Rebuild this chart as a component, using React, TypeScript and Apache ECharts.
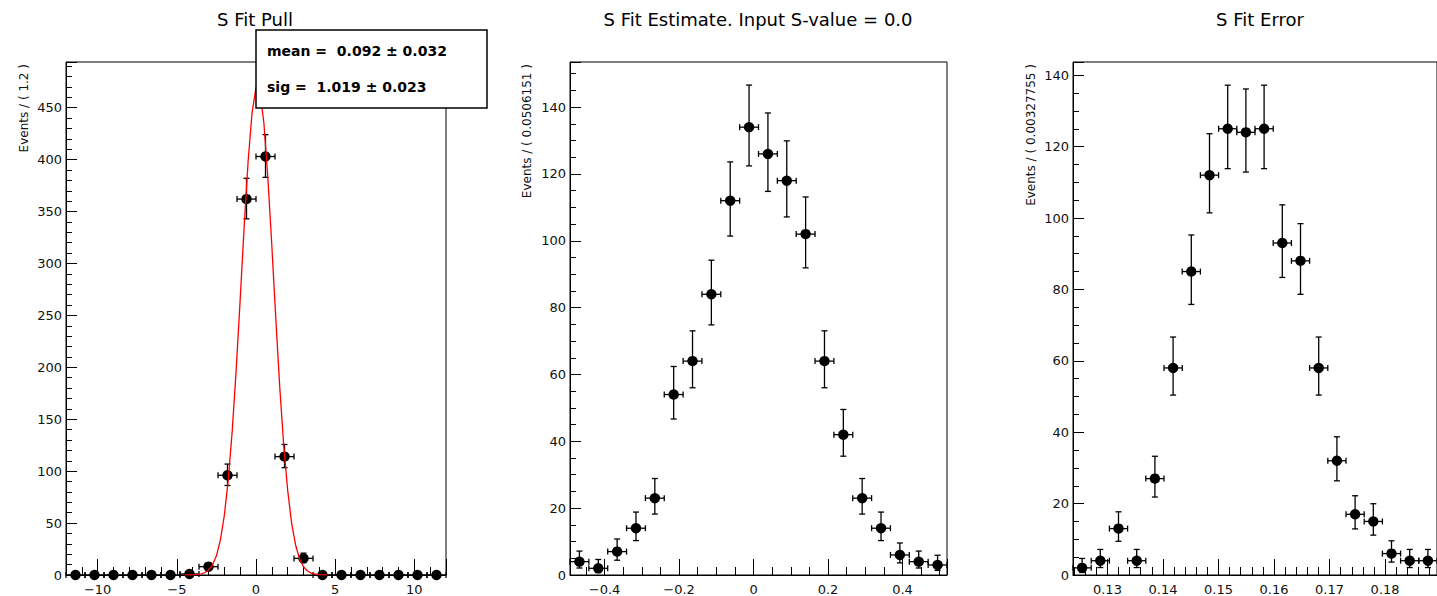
import React, { useEffect, useRef } from "react";
import * as echarts from "echarts";

// ---------- data ----------
const PULL_BIN = 1.2;
const pullCenters = [-11.4, -10.2, -9.0, -7.8, -6.6, -5.4, -4.2, -3.0, -1.8, -0.6, 0.6, 1.8, 3.0, 4.2, 5.4, 6.6, 7.8, 9.0, 10.2, 11.4];
const pullCounts = [0, 0, 0, 0, 0, 0, 1, 8, 96, 362, 403, 114, 16, 0, 0, 0, 0, 0, 0, 0];
const pullErrLow = [0, 0, 0, 0, 0, 0, 0.83, 2.77, 9.8, 19.03, 20.08, 10.66, 3.96, 0, 0, 0, 0, 0, 0, 0];
const pullErrHigh = [1.15, 1.15, 1.15, 1.15, 1.15, 1.15, 2.3, 3.95, 10.83, 20.03, 21.08, 11.7, 5.08, 1.15, 1.15, 1.15, 1.15, 1.15, 1.15, 1.15];

const fitX = [-4.5, -4.25, -4.0, -3.75, -3.5, -3.25, -3.0, -2.75, -2.5, -2.25, -2.0, -1.75, -1.5, -1.25, -1.0, -0.75, -0.5, -0.25, 0.0, 0.092, 0.25, 0.5, 0.75, 1.0, 1.25, 1.5, 1.75, 2.0, 2.25, 2.5, 2.75, 3.0, 3.25, 3.5, 3.75, 4.0, 4.25, 4.5];
const fitY = [0.02, 0.05, 0.15, 0.39, 0.94, 2.17, 4.7, 9.6, 18.5, 33.5, 57.3, 91.8, 139, 198, 265, 335, 398, 445, 469, 471, 465, 435, 382, 317, 247, 181, 125, 81.6, 50, 28.9, 15.7, 8.0, 3.87, 1.75, 0.75, 0.3, 0.11, 0.04];

const EST_BIN = 0.0506151;
const estCenters = [-0.46749, -0.41688, -0.36626, -0.31565, -0.26503, -0.21442, -0.1638, -0.11319, -0.06257, -0.01196, 0.03866, 0.08927, 0.13989, 0.1905, 0.24112, 0.29173, 0.34235, 0.39296, 0.44358, 0.49419];
const estCounts = [4, 2, 7, 14, 23, 54, 64, 84, 112, 134, 126, 118, 102, 64, 42, 23, 14, 6, 4, 3];
const estErrLow = [1.91, 1.29, 2.58, 3.7, 4.77, 7.33, 7.98, 9.16, 10.58, 11.58, 11.22, 10.86, 10.1, 7.98, 6.45, 4.77, 3.7, 2.38, 1.91, 1.63];
const estErrHigh = [3.16, 2.64, 3.77, 4.83, 5.87, 8.39, 9.06, 10.2, 11.6, 12.6, 12.25, 11.9, 11.12, 9.06, 7.53, 5.87, 4.83, 3.58, 3.16, 2.92];

const ERR_BIN = 0.00327755;
const errCenters = [0.125439, 0.128716, 0.131994, 0.135271, 0.138549, 0.141827, 0.145104, 0.148382, 0.151659, 0.154937, 0.158214, 0.161492, 0.16477, 0.168047, 0.171325, 0.174602, 0.17788, 0.181157, 0.184435, 0.187712];
const errCounts = [2, 4, 13, 4, 27, 58, 85, 112, 125, 124, 125, 93, 88, 58, 32, 17, 15, 6, 4, 4];
const errErrLow = [1.29, 1.91, 3.56, 1.91, 5.16, 7.6, 9.21, 10.56, 11.17, 11.13, 11.17, 9.65, 9.38, 7.6, 5.62, 4.09, 3.83, 2.38, 1.91, 1.91];
const errErrHigh = [2.64, 3.16, 4.7, 3.16, 6.26, 8.66, 10.25, 11.61, 12.2, 12.15, 12.2, 10.68, 10.42, 8.66, 6.71, 5.2, 4.96, 3.58, 3.16, 3.16];

const titles = ["S Fit Pull", "S Fit Estimate. Input S-value = 0.0", "S Fit Error"];
const yTitles = ["Events / ( 1.2 )", "Events / ( 0.0506151 )", "Events / ( 0.00327755 )"];
const statLines = ["mean =  0.092 \u00b1 0.032", "sig =  1.019 \u00b1 0.023"];

// ---------- styling ----------
const FONT = "DejaVu Sans";
const fmt = (v: number) => String(Number(v.toFixed(6))).replace("-", "\u2212");

const xAxisOf = (gridIndex: number, min: number, max: number, minorSplit: number) => ({
  type: "value",
  gridIndex,
  min,
  max,
  splitNumber: 5,
  axisLine: { show: true, onZero: false, lineStyle: { color: "#000", width: 1 } },
  axisTick: { show: true, inside: true, length: 16, lineStyle: { color: "#000", width: 1 } },
  minorTick: { show: true, splitNumber: minorSplit, length: 8, lineStyle: { color: "#000", width: 1 } },
  axisLabel: {
    showMinLabel: false,
    showMaxLabel: false,
    margin: 8,
    color: "#111",
    fontSize: 13,
    fontFamily: FONT,
    formatter: fmt,
  },
  splitLine: { show: false },
});

const yAxisOf = (gridIndex: number, max: number, interval: number, minorSplit: number) => ({
  type: "value",
  gridIndex,
  min: 0,
  max,
  interval,
  axisLine: { show: true, onZero: false, lineStyle: { color: "#000", width: 1 } },
  axisTick: { show: true, inside: true, length: 11, lineStyle: { color: "#000", width: 1 } },
  minorTick: { show: true, splitNumber: minorSplit, length: 6, lineStyle: { color: "#000", width: 1 } },
  axisLabel: {
    showMinLabel: true,
    showMaxLabel: false,
    margin: 4,
    color: "#111",
    fontSize: 13,
    fontFamily: FONT,
    formatter: fmt,
  },
  splitLine: { show: false },
});

const renderErr = (params: any, api: any) => {
  const x = api.value(0);
  const y = api.value(1);
  const lo = api.value(2);
  const hi = api.value(3);
  const hw = api.value(4);
  const c = api.coord([x, y]);
  const top = api.coord([x, y + hi]);
  const bot = api.coord([x, y - lo]);
  const l = api.coord([x - hw, y]);
  const r = api.coord([x + hw, y]);
  const st = { stroke: "#000", lineWidth: 1.3 };
  const cap = 3;
  return {
    type: "group",
    children: [
      { type: "line", shape: { x1: c[0], y1: top[1], x2: c[0], y2: bot[1] }, style: st },
      { type: "line", shape: { x1: c[0] - cap, y1: top[1], x2: c[0] + cap, y2: top[1] }, style: st },
      { type: "line", shape: { x1: c[0] - cap, y1: bot[1], x2: c[0] + cap, y2: bot[1] }, style: st },
      { type: "line", shape: { x1: l[0], y1: c[1], x2: r[0], y2: c[1] }, style: st },
      { type: "line", shape: { x1: l[0], y1: c[1] - cap, x2: l[0], y2: c[1] + cap }, style: st },
      { type: "line", shape: { x1: r[0], y1: c[1] - cap, x2: r[0], y2: c[1] + cap }, style: st },
      { type: "circle", shape: { cx: c[0], cy: c[1], r: 5.2 }, style: { fill: "#000" } },
    ],
  };
};

const errSeries = (idx: number, centers: number[], counts: number[], lo: number[], hi: number[], bin: number) => ({
  type: "custom",
  xAxisIndex: idx,
  yAxisIndex: idx,
  renderItem: renderErr,
  clip: false,
  silent: true,
  z: 3,
  encode: { x: 0, y: 1 },
  data: centers.map((c, i) => [c, counts[i], lo[i], hi[i], bin / 2]),
});

const gridLefts = [66, 570, 1073];
const titleCenters = [255, 758, 1260];
const yTitleX = [24, 527, 1031];

export default function App() {
  const ref = useRef<HTMLDivElement>(null);
  useEffect(() => {
    if (!ref.current) return;
    const chart = echarts.init(ref.current, undefined, { renderer: "svg" });
    const graphic: any[] = [];
    titles.forEach((t, i) => {
      graphic.push({
        type: "text",
        x: titleCenters[i],
        y: 19.5,
        z: 100,
        style: { text: t, fill: "#000", fontSize: 18, fontFamily: FONT, textAlign: "center", textVerticalAlign: "middle" },
      });
    });
    yTitles.forEach((t, i) => {
      graphic.push({
        type: "text",
        x: yTitleX[i],
        y: 64,
        rotation: Math.PI / 2,
        z: 100,
        style: { text: t, fill: "#111", fontSize: 12, fontFamily: FONT, textAlign: "right", textVerticalAlign: "middle" },
      });
    });
    graphic.push({
      type: "rect",
      z: 100,
      shape: { x: 256, y: 30, width: 231, height: 78 },
      style: { fill: "#fff", stroke: "#000", lineWidth: 1.5 },
    });
    statLines.forEach((t, i) => {
      graphic.push({
        type: "text",
        x: 267,
        y: 51 + i * 36,
        z: 101,
        style: { text: t, fill: "#000", fontSize: 14, fontWeight: "bold", fontFamily: FONT, textAlign: "left", textVerticalAlign: "middle" },
      });
    });

    chart.setOption({
      animation: false,
      backgroundColor: "#fff",
      grid: gridLefts.map((l) => ({
        left: l,
        top: 62,
        width: 377,
        height: 513,
        show: true,
        borderColor: "#000",
        borderWidth: 1,
        backgroundColor: "transparent",
        containLabel: false,
      })).map((g, i) => (i === 0 ? { ...g, width: 380 } : g)),
      xAxis: [xAxisOf(0, -12, 12, 5), xAxisOf(1, -0.4928, 0.5195, 4), xAxisOf(2, 0.1238, 0.18935, 5)],
      yAxis: [yAxisOf(0, 494, 50, 5), yAxisOf(1, 153.5, 20, 4), yAxisOf(2, 143.7, 20, 4)],
      series: [
        errSeries(0, pullCenters, pullCounts, pullErrLow, pullErrHigh, PULL_BIN),
        {
          type: "line",
          xAxisIndex: 0,
          yAxisIndex: 0,
          data: fitX.map((x, i) => [x, fitY[i]]),
          showSymbol: false,
          symbol: "none",
          smooth: false,
          silent: true,
          z: 5,
          lineStyle: { color: "#ff0000", width: 1.3 },
        },
        errSeries(1, estCenters, estCounts, estErrLow, estErrHigh, EST_BIN),
        errSeries(2, errCenters, errCounts, errErrLow, errErrHigh, ERR_BIN),
      ],
      graphic,
    });
    return () => chart.dispose();
  }, []);
  return <div ref={ref} style={{ position: "fixed", left: 0, top: 0, width: 1437, height: 596 }} />;
}
